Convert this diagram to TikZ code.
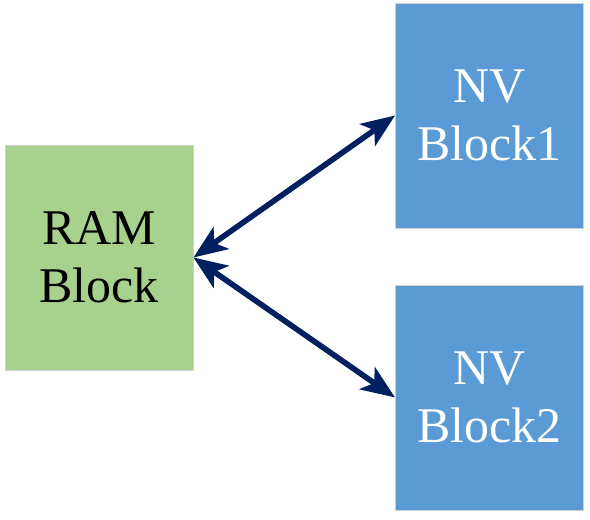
\documentclass[tikz,border=0pt]{standalone}
\usepackage{fontspec}
\setmainfont{Liberation Serif}
\usetikzlibrary{arrows.meta}
\definecolor{ramgreen}{HTML}{A9D18E}
\definecolor{nvblue}{HTML}{5B9BD5}
\definecolor{navy}{HTML}{002060}

\begin{document}
\begin{tikzpicture}[x=0.025cm, y=-0.025cm,
  blk/.style={rectangle, draw=black!18, line width=0.6pt, minimum width=4.7cm, minimum height=5.625cm,
              align=center, inner sep=0pt, font=\fontsize{35.5}{41}\selectfont},
  ramblk/.style={blk, fill=ramgreen, text=black},
  nvblk/.style={blk, fill=nvblue, text=white},
  link/.style={{Stealth[length=24pt, width=19pt, inset=6pt]}-{Stealth[length=24pt, width=19pt, inset=6pt]},
               line width=4pt, navy}]
  \useasboundingbox (0,0) rectangle (590,519);
  % blocks
  \node[ramblk] (ram) at (99,257.5) {RAM\\Block};
  \node[nvblk]  (nv1) at (489.5,115.5) {NV\\Block1};
  \node[nvblk]  (nv2) at (489.5,397.5) {NV\\Block2};
  % links
  \draw[link] (ram.east) -- (nv1.west);
  \draw[link] (ram.east) -- (nv2.west);
\end{tikzpicture}
\end{document}
